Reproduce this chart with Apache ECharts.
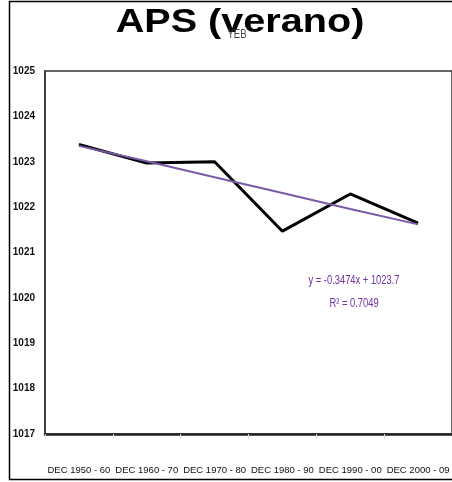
<!DOCTYPE html>
<html>
<head>
<meta charset="utf-8">
<script src="https://cdn.jsdelivr.net/npm/echarts@6/dist/echarts.min.js"></script>
<style>
  html, body { margin: 0; padding: 0; background: #fff; }
  #main { width: 452px; height: 482px; }
</style>
</head>
<body>
<div id="main"></div>
<script>
// data
const periods = ['DEC 1950 - 60', 'DEC 1960 - 70', 'DEC 1970 - 80', 'DEC 1980 - 90', 'DEC 1990 - 00', 'DEC 2000 - 09']
const presion = [1023.38, 1022.97, 1023.0, 1021.47, 1022.29, 1021.65]
const tendencia = [1023.35, 1023.01, 1022.66, 1022.31, 1021.96, 1021.62]
const ecuacion = 'y = -0.3474x + 1023.7'
const r2 = 'R² = 0.7049'

const chart = echarts.init(document.getElementById('main'))
const sans = '"Liberation Sans", Arial, sans-serif'

const option = {
  animation: false,
  grid: {
    left: 45,
    width: 414,
    top: 71,
    bottom: 48,
    show: true,
    borderColor: '#333',
    borderWidth: 1.5
  },
  xAxis: {
    type: 'category',
    data: periods,
    boundaryGap: true,
    axisLine: { lineStyle: { color: '#222', width: 2.5 } },
    axisTick: { show: true, length: 5, lineStyle: { color: '#ddd' } },
    axisLabel: {
      margin: 31,
      fontFamily: sans,
      fontSize: 9.5,
      color: '#111',
      interval: 0
    }
  },
  yAxis: {
    type: 'value',
    min: 1017,
    max: 1025,
    interval: 1,
    splitLine: { show: false },
    axisLine: { show: true, lineStyle: { color: '#333', width: 1.5 } },
    axisTick: { show: false },
    axisLabel: {
      margin: 10,
      fontFamily: sans,
      fontWeight: 'bold',
      fontSize: 10,
      color: '#111',
      formatter: v => String(v)
    }
  },
  series: [
    {
      name: 'presion',
      type: 'line',
      data: presion,
      symbol: 'none',
      lineStyle: { color: '#000', width: 3 },
      z: 2
    },
    {
      name: 'tendencia',
      type: 'line',
      data: tendencia,
      symbol: 'none',
      lineStyle: { color: '#7a5aa8', width: 2 },
      z: 3
    }
  ],
  graphic: [
    {
      type: 'rect',
      shape: { x: 9.5, y: 1.5, width: 460, height: 478 },
      style: { fill: 'none', stroke: '#000', lineWidth: 1.5 },
      silent: true
    },
    {
      type: 'text',
      x: 240,
      y: 6,
      scaleX: 1.2,
      style: {
        text: 'APS (verano)',
        font: 'bold 33px ' + sans,
        fill: '#000',
        align: 'center',
        verticalAlign: 'top'
      }
    },
    {
      type: 'text',
      x: 237,
      y: 35,
      scaleX: 0.8,
      style: { text: 'YEB', font: '12px ' + sans, fill: '#444', align: 'center', verticalAlign: 'middle' }
    },
    {
      type: 'text',
      x: 354,
      y: 281,
      scaleX: 0.78,
      style: {
        text: ecuacion,
        font: '12px ' + sans,
        fill: '#7030a0',
        align: 'center',
        verticalAlign: 'middle'
      }
    },
    {
      type: 'text',
      x: 354,
      y: 304,
      scaleX: 0.78,
      style: {
        text: r2,
        font: '12px ' + sans,
        fill: '#7030a0',
        align: 'center',
        verticalAlign: 'middle'
      }
    }
  ]
}

chart.setOption(option)
</script>
</body>
</html>
